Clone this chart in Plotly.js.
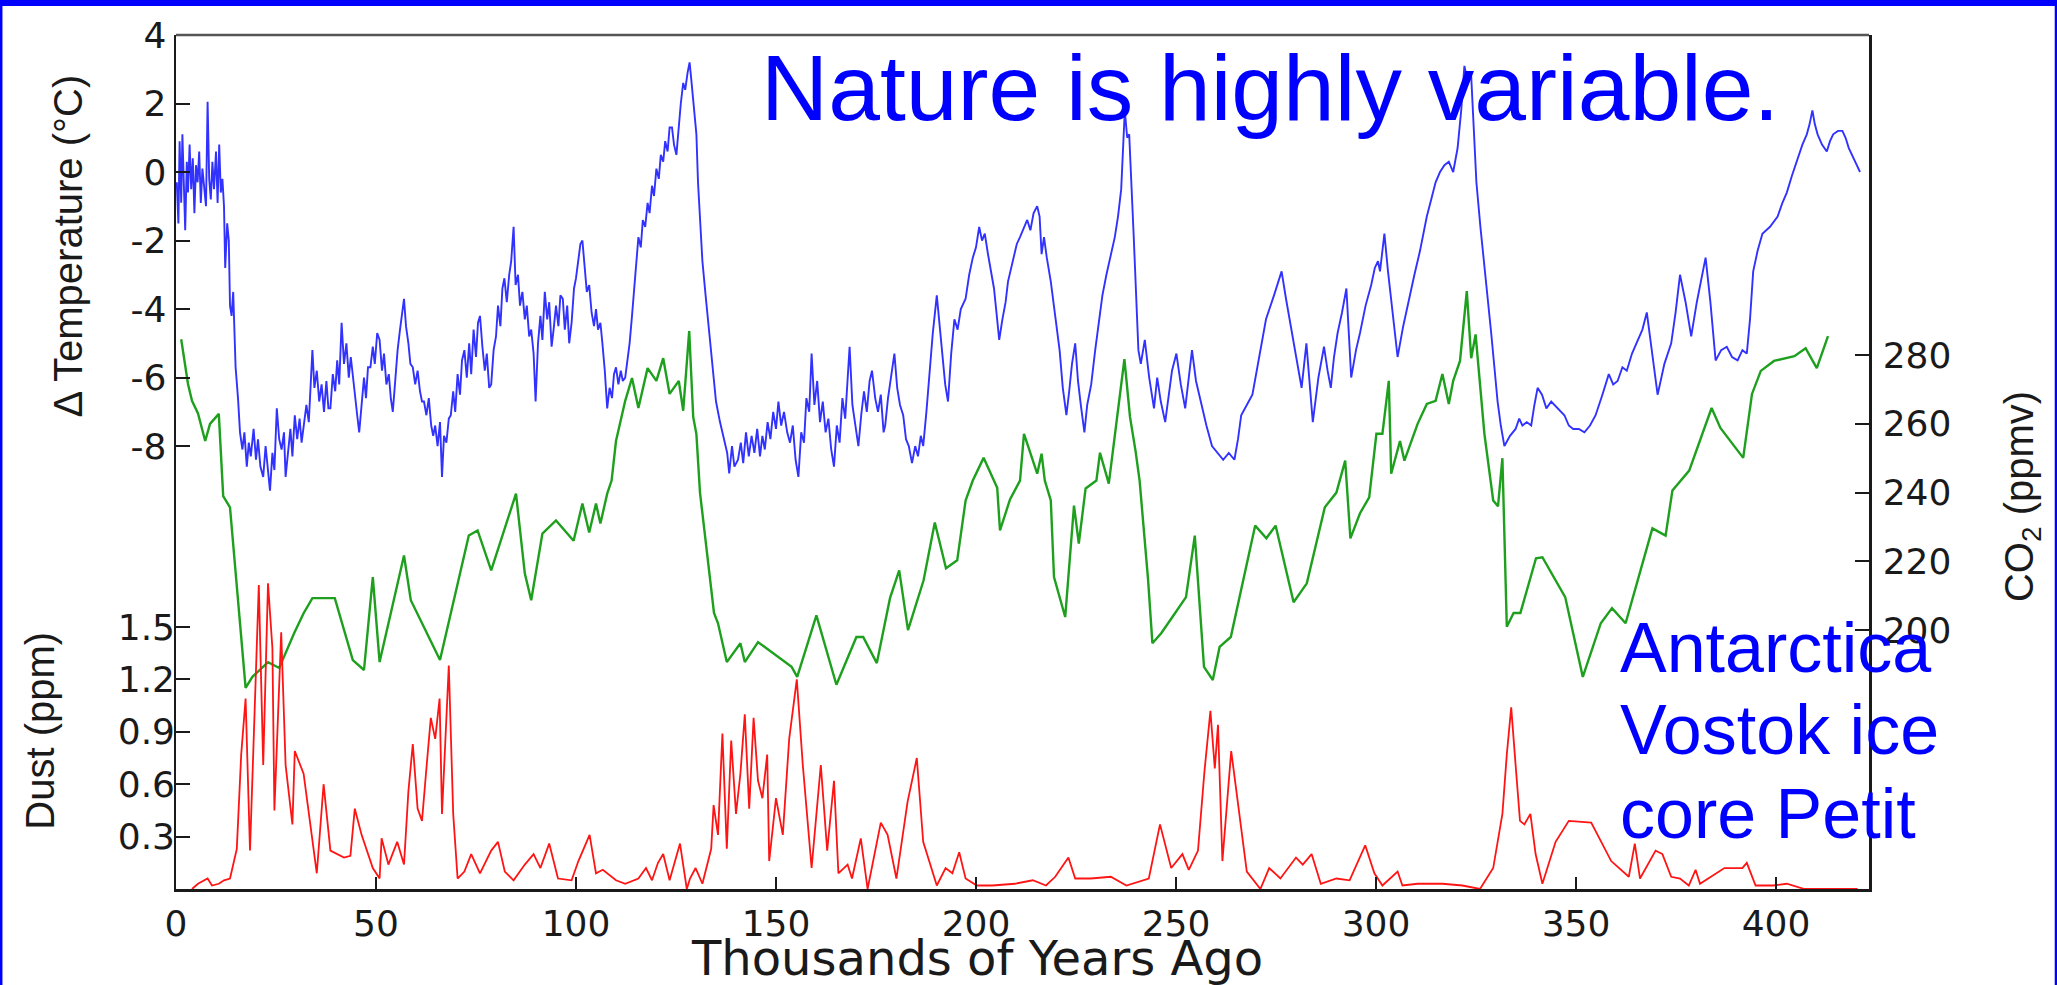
<!DOCTYPE html>
<html>
<head>
<meta charset="utf-8">
<script src="https://cdn.plot.ly/plotly-3.0.1.min.js"></script>
<style>
html,body{margin:0;padding:0;background:#fff;}
#chart{width:2057px;height:985px;}
</style>
</head>
<body>
<div id="chart"></div>
<script>
// ---- Temperature (Δ °C) vs thousands of years ago ----
const tempAge = [0.2,0.6,0.9,1.3,1.6,2.0,2.3,2.7,3.0,3.4,3.8,4.2,4.6,5.0,5.4,5.8,6.2,6.6,7.0,7.5,7.9,8.3,8.7,9.1,9.5,10.0,10.4,10.8,11.2,11.6,12.0,
12.3,12.8,13.2,13.5,13.9,14.3,14.9,15.5,16.0,16.6,17.1,17.7,18.2,18.7,19.4,20.0,20.5,21.1,21.8,22.4,23.0,23.5,24.1,24.6,25.2,25.8,26.4,27.0,27.4,28.0,28.6,29.1,29.7,30.3,30.9,31.4,32.0,32.6,33.2,33.6,34.1,34.6,35.2,35.8,36.4,37.0,37.6,38.1,38.6,39.2,39.8,40.3,40.8,41.4,42.0,42.6,43.2,43.7,44.2,44.8,45.3,45.8,46.4,47.0,47.5,48.0,48.6,49.2,49.7,50.3,50.9,51.5,52.0,52.6,53.2,53.7,54.2,54.8,55.4,56.0,56.5,57.0,57.5,58.1,58.6,59.2,59.8,60.4,61.0,61.5,62.0,62.6,63.2,63.8,64.3,64.8,65.4,66.0,66.5,67.0,67.6,68.2,68.7,69.3,69.8,70.4,71.0,71.5,72.1,72.7,73.3,73.8,74.4,75.0,75.5,76.0,76.6,77.2,77.7,78.3,78.8,79.4,80.0,80.5,81.1,81.6,82.1,82.7,83.3,83.8,84.4,84.9,85.5,86.0,86.6,87.2,87.7,88.3,88.8,89.4,89.9,90.5,91.1,91.6,92.2,92.8,93.3,93.9,94.4,95.0,95.6,96.1,96.7,97.2,97.8,98.3,98.9,99.5,100.0,100.6,101.1,101.6,102.2,102.7,103.3,103.9,104.5,105.0,105.5,106.1,106.6,107.2,107.8,108.4,109.0,109.5,110.0,110.6,111.2,111.7,112.3,112.9,113.4,114.0,114.5,115.1,115.6,116.2,116.7,117.3,117.9,118.4,119.0,119.5,120.1,120.7,121.2,121.8,122.3,122.9,123.4,124.0,124.5,125.1,125.7,126.2,126.8,127.3,127.9,128.4,128.9,129.5,130.1,130.5,131.0,131.6,132.4,133.3,134.1,135.0,136.0,137.2,137.8,138.3,139.0,139.6,140.5,141.2,141.8,142.5,143.2,143.9,144.6,145.3,146.0,146.6,147.2,147.9,148.6,149.3,150.0,150.6,151.3,152.0,152.8,153.5,154.2,154.9,155.6,156.3,157.0,157.6,158.3,158.9,159.6,160.3,161.0,161.7,162.4,163.1,163.8,164.5,165.2,165.9,166.6,167.3,168.0,168.4,169.1,169.8,170.6,171.3,172.0,172.7,173.4,174.0,174.8,175.5,176.2,176.9,177.3,178.0,178.8,179.6,180.3,181.0,181.8,182.5,183.2,184.0,184.8,185.5,186.2,186.8,187.6,188.4,189.2,190.2,190.9,191.6,192.3,193.0,193.8,194.6,195.4,196.2,197.4,198.3,199.2,200.0,200.8,201.5,202.2,203.0,203.8,204.5,205.2,205.8,206.6,207.4,208.0,208.6,209.4,210.2,211.0,212.0,212.8,213.6,214.4,215.3,215.9,216.4,217.0,217.7,218.7,219.8,220.9,221.7,222.6,223.3,224.0,224.8,225.5,226.2,227.1,227.8,228.8,229.8,230.7,231.6,232.6,233.8,234.7,235.5,236.3,237.2,237.8,238.3,238.9,239.4,240.0,240.6,241.2,242.2,243.3,244.5,245.3,246.2,247.3,248.2,249.0,250.1,251.2,252.3,253.2,254.0,255.0,256.2,257.6,259.0,260.4,261.8,263.2,264.6,265.5,266.3,267.7,269.1,270.8,272.5,274.5,276.4,277.5,278.6,280.0,281.4,282.6,283.4,284.2,285.6,287.0,287.9,288.7,289.5,290.4,291.5,292.6,293.2,293.8,295.0,296.0,297.4,298.8,299.7,300.5,301.0,302.1,303.0,303.8,304.6,305.4,306.8,308.2,309.6,311.0,312.7,313.8,314.9,316.0,317.1,318.2,319.3,320.4,321.3,322.1,323.0,323.8,324.4,325.1,326.1,327.1,328.0,328.8,329.6,330.4,331.2,332.1,333.5,334.9,335.8,336.6,337.7,338.8,339.6,340.4,341.5,342.6,343.8,345.4,347.1,348.2,349.3,350.7,352.1,353.5,354.9,356.6,358.2,359.3,360.4,361.6,362.7,364.0,365.4,366.6,367.7,369.0,370.4,372.1,373.8,374.9,376.0,377.4,378.8,380.2,381.6,382.4,383.6,384.9,386.3,387.7,389.0,390.4,391.6,392.7,393.5,394.3,395.4,396.6,398.5,400.4,401.6,402.7,404.0,405.4,406.6,407.7,408.4,409.1,409.7,410.4,411.5,412.7,413.5,414.3,415.5,416.6,417.4,418.2,419.3,420.2,421.0];
const tempVal = [-0.3,-1.5,0.9,-0.9,1.1,-0.4,-1.7,0.3,-0.6,0.8,-0.5,0.4,-1.2,0.2,-0.3,0.6,-0.9,0.1,-0.4,-1.0,2.05,-0.2,-0.8,0.3,-0.5,0.6,-0.9,0.8,-0.6,-0.2,-1.0,
-2.8,-1.5,-2.0,-3.9,-4.2,-3.5,-5.7,-6.6,-7.6,-8.1,-7.6,-8.6,-7.9,-8.3,-7.5,-8.4,-7.8,-8.6,-8.9,-8.0,-8.7,-9.3,-8.2,-8.7,-6.9,-7.8,-8.1,-7.6,-8.9,-8.1,-7.5,-8.3,-7.1,-7.8,-7.2,-7.9,-7.4,-6.8,-7.3,-6.4,-5.2,-6.3,-5.8,-6.7,-6.2,-7.0,-6.1,-6.9,-6.9,-5.9,-6.4,-5.5,-6.2,-4.4,-5.6,-5.0,-6.0,-5.4,-6.0,-6.6,-7.1,-7.6,-6.8,-6.0,-6.6,-5.7,-5.7,-5.1,-5.6,-4.7,-4.9,-5.8,-5.3,-6.2,-5.9,-6.6,-7.0,-6.1,-5.2,-4.6,-4.1,-3.7,-4.5,-5.0,-5.6,-5.7,-6.2,-5.8,-6.4,-6.7,-6.7,-7.1,-6.6,-7.4,-7.7,-7.4,-8.0,-7.3,-8.9,-7.7,-7.9,-7.2,-7.1,-6.4,-7.0,-5.9,-6.5,-5.5,-5.2,-6.0,-5.0,-5.9,-4.6,-5.4,-4.4,-4.2,-5.1,-5.8,-5.3,-6.3,-6.2,-5.2,-4.8,-3.9,-4.5,-3.4,-3.1,-3.8,-3.0,-2.6,-1.6,-3.3,-3.0,-3.9,-3.5,-4.3,-3.9,-4.8,-4.6,-5.3,-6.7,-5.0,-4.2,-4.9,-3.5,-4.3,-3.8,-5.1,-4.6,-3.9,-4.5,-3.6,-3.7,-4.6,-3.9,-5.0,-4.4,-3.4,-3.1,-2.5,-2.1,-2.0,-2.8,-3.5,-3.3,-4.1,-4.5,-4.0,-4.6,-4.4,-5.0,-5.8,-6.9,-6.3,-6.6,-5.9,-5.7,-6.2,-5.8,-6.1,-6.0,-5.4,-5.0,-4.2,-3.5,-2.6,-1.9,-2.2,-1.4,-1.6,-0.9,-1.2,-0.4,-0.7,0.1,-0.2,0.5,0.3,0.9,0.6,1.3,1.3,0.8,0.5,1.4,2.0,2.6,2.4,2.9,3.2,2.6,1.8,1.1,-0.3,-1.2,-2.6,-3.6,-4.7,-5.8,-6.7,-7.3,-7.9,-8.2,-8.8,-8.0,-8.6,-8.4,-7.9,-8.5,-7.6,-8.3,-7.7,-8.2,-7.5,-8.3,-7.7,-8.1,-7.3,-7.8,-7.0,-7.5,-6.7,-7.4,-7.0,-7.6,-7.9,-7.4,-8.4,-8.9,-7.6,-7.9,-6.6,-7.0,-5.3,-6.8,-6.1,-7.3,-6.7,-7.6,-7.2,-8.1,-8.6,-7.4,-7.9,-6.6,-7.2,-5.9,-5.1,-6.8,-7.4,-8.0,-7.1,-6.4,-7.0,-6.1,-5.8,-6.6,-7.0,-6.5,-7.6,-7.4,-6.6,-6.0,-5.3,-6.3,-6.8,-7.1,-7.8,-8.0,-8.5,-8.0,-8.3,-7.7,-8.0,-7.0,-5.8,-4.7,-3.6,-4.5,-5.4,-6.2,-6.7,-5.3,-4.3,-4.6,-4.0,-3.7,-3.0,-2.5,-2.2,-1.6,-2.0,-1.8,-2.4,-2.9,-3.4,-4.2,-4.9,-4.3,-3.8,-3.2,-2.9,-2.5,-2.1,-1.9,-1.6,-1.4,-1.7,-1.2,-1.0,-1.3,-2.4,-1.9,-2.5,-3.2,-4.2,-5.2,-6.3,-7.1,-6.4,-5.6,-5.0,-6.1,-6.8,-7.6,-6.8,-6.2,-5.2,-4.4,-3.6,-3.0,-2.4,-1.9,-1.3,-0.5,1.8,1.0,1.1,-0.3,-1.8,-3.5,-5.2,-5.6,-4.9,-6.0,-6.9,-6.0,-6.7,-7.3,-6.5,-5.8,-5.3,-6.2,-6.9,-6.0,-5.2,-6.1,-6.7,-7.4,-8.0,-8.2,-8.4,-8.2,-8.4,-7.8,-7.1,-6.8,-6.5,-5.4,-4.3,-3.6,-2.9,-3.7,-4.4,-5.4,-6.3,-5.0,-6.2,-7.3,-6.0,-5.1,-5.8,-6.3,-5.4,-4.7,-4.1,-3.4,-4.7,-6.0,-5.2,-4.7,-3.9,-3.3,-2.8,-2.6,-2.9,-1.8,-2.9,-3.7,-4.6,-5.4,-4.5,-3.7,-3.0,-2.3,-1.3,-0.8,-0.3,0.0,0.2,0.3,0.0,0.7,1.8,3.1,2.6,2.8,1.3,-0.3,-1.6,-2.7,-3.8,-4.7,-5.7,-6.7,-7.4,-8.0,-7.7,-7.5,-7.2,-7.4,-7.3,-7.4,-6.8,-6.3,-6.5,-6.9,-6.7,-6.9,-7.1,-7.4,-7.5,-7.5,-7.6,-7.4,-7.1,-6.5,-5.9,-6.2,-6.1,-5.7,-5.8,-5.3,-4.9,-4.6,-4.1,-5.2,-6.5,-5.6,-5.0,-4.1,-3.0,-3.8,-4.8,-3.8,-2.9,-2.5,-3.8,-5.5,-5.2,-5.1,-5.4,-5.5,-5.2,-5.3,-4.3,-2.9,-2.3,-1.8,-1.6,-1.3,-0.9,-0.6,-0.1,0.4,0.8,1.1,1.4,1.8,1.4,1.1,0.8,0.6,0.9,1.1,1.2,1.2,1.0,0.7,0.4,0.2,0.0];

// ---- CO2 (ppmv) ----
const co2Age = [1.3,2.2,3.0,4.0,5.5,7.3,8.5,10.7,11.5,11.8,13.5,15.5,17.4,19.1,21.0,23.0,25.8,27.4,29.5,31.9,34.1,39.7,42.0,44.2,47.0,49.2,50.9,57.0,58.7,66.0,73.2,75.4,78.8,85.0,87.2,88.8,91.6,95.0,99.4,101.6,103.3,105.0,106.1,107.8,108.9,110.0,112.3,114.0,115.6,117.9,120.1,121.8,123.4,125.7,126.8,128.3,129.3,130.1,131.0,133.0,134.5,135.5,137.7,141.1,142.2,145.5,153.9,155.3,160.1,165.1,170.1,171.8,175.2,178.5,180.8,183.0,186.9,189.7,192.5,195.3,197.4,199.2,201.9,205.3,206.0,208.5,211.0,212.0,215.3,216.4,217.2,218.7,219.5,222.3,224.5,225.7,227.4,230.1,231.0,233.2,237.1,238.5,239.9,240.9,243.0,244.1,246.3,249.1,252.5,254.7,256.4,257.0,259.2,260.9,263.7,269.8,272.6,274.9,279.4,282.7,287.2,290.1,292.3,293.6,296.0,298.3,300.1,301.6,303.2,303.8,306.0,307.1,310.4,312.7,314.9,316.6,318.2,319.3,321.0,322.7,323.8,324.9,327.1,329.3,330.5,331.6,332.7,334.4,336.1,340.0,341.6,347.3,351.7,356.2,359.0,362.4,369.1,372.4,374.1,378.3,383.9,386.1,391.8,394.0,396.2,399.5,404.6,407.4,410.2,413.0];
const co2Val = [284.6,278,271.6,266.7,263,255,260,262.9,243.5,239,235.7,210,183.2,186.4,188.5,190.7,189,193.3,199,204.9,209.3,209.3,200,191.3,188.4,215.4,190.7,221.7,208.7,191.3,227.5,229,217.4,239.7,216.5,208.7,228.1,231.9,226,236.8,228.4,236.8,231,239.7,243.5,255,266.7,273.3,264.6,276.2,272.5,279.1,268.7,272.5,263.8,287,262,257,240,220,205,202,190.7,196.2,190.7,196.5,189.3,186.4,204.3,184.1,198,198,190.4,209.3,217.4,200,214.5,231.3,218,220.3,237.7,243.5,250.1,241.4,229,238,243.5,257.1,245.5,251.3,243.5,237.7,215.4,203.8,236.2,225.2,241.2,243.5,251.6,242.6,278.8,262,252,243.5,215,196.2,199.1,203.8,209.6,227.5,200,189.3,185.5,195.1,198,230.4,226.7,230.4,208.1,213.6,235.7,240,249.3,226.7,234,238.6,257.1,257.1,272.5,245.5,255,249.3,260,265.8,266.7,274.5,265.8,272.5,278.3,298.6,279.1,286,257.1,237.7,236,250,201,205,205,220.9,221.2,209.6,186.4,202,206.4,202,229.6,227.5,240.6,246.4,264.6,258.8,250.1,268.7,275.4,278.3,279.7,282,276.2,285.5];

// ---- Dust (ppm) ----
const dustAge = [4.0,5.5,7.9,9.0,10.7,12.0,13.5,15.2,16.3,17.4,18.5,19.6,20.7,21.8,23.0,24.1,24.6,26.3,27.4,29.1,29.7,31.9,35.2,36.9,38.6,42.0,43.6,44.7,46.4,49.2,50.9,51.4,53.1,55.3,57.0,58.1,59.2,60.4,61.5,62.6,63.7,64.8,65.9,66.5,68.2,69.3,70.4,72.1,73.8,76.0,78.8,80.5,82.2,84.4,87.2,89.4,91.1,93.3,95.5,98.9,100.6,103.4,105.0,106.7,110.0,112.3,115.6,117.5,119.0,120.5,121.8,123.4,126.0,127.7,128.5,129.9,131.6,133.8,134.4,135.5,136.6,137.7,138.8,140.0,141.1,142.2,143.3,144.4,145.5,146.6,147.8,148.3,150.0,151.7,153.3,155.2,156.7,158.9,161.2,162.8,164.5,165.6,167.9,169.0,171.2,172.9,176.2,177.9,180.1,182.9,185.2,186.8,190.2,192.4,194.1,195.8,197.4,200.2,204.1,209.7,214.2,217.5,219.8,223.1,224.8,228.7,233.7,237.6,243.2,246.0,248.8,251.6,253.2,255.5,257.1,258.6,259.7,260.5,261.6,263.8,265.5,267.7,271.1,273.3,276.1,280.0,281.7,283.9,286.2,290.1,293.4,297.3,299.6,301.6,305.4,306.6,310.4,313.8,316.6,321.6,326.0,329.3,331.6,332.7,333.8,334.9,336.0,337.1,338.6,339.9,341.6,344.9,348.2,353.8,358.8,363.2,364.7,366.0,369.9,371.6,373.8,376.0,378.2,379.9,381.0,387.1,391.6,392.7,394.9,399.3,402.7,407.1,420.4];
const dustVal = [0.0,0.03,0.06,0.02,0.03,0.05,0.06,0.23,0.77,1.09,0.22,1.0,1.74,0.71,1.75,1.38,0.45,1.47,0.71,0.37,0.79,0.66,0.09,0.6,0.22,0.18,0.19,0.46,0.31,0.12,0.06,0.29,0.14,0.27,0.14,0.56,0.83,0.46,0.39,0.69,0.98,0.86,1.09,0.43,1.28,0.43,0.06,0.1,0.2,0.09,0.22,0.27,0.1,0.05,0.14,0.2,0.12,0.26,0.06,0.05,0.16,0.31,0.09,0.11,0.05,0.03,0.06,0.12,0.05,0.15,0.2,0.05,0.26,0.0,0.06,0.12,0.03,0.23,0.48,0.31,0.89,0.23,0.85,0.43,0.66,1.0,0.46,0.98,0.62,0.52,0.77,0.16,0.52,0.31,0.86,1.2,0.71,0.12,0.71,0.22,0.62,0.09,0.14,0.06,0.29,0.0,0.38,0.31,0.06,0.5,0.75,0.27,0.02,0.12,0.09,0.21,0.06,0.02,0.02,0.03,0.05,0.02,0.07,0.18,0.06,0.06,0.07,0.02,0.06,0.37,0.12,0.2,0.11,0.22,0.67,1.02,0.69,0.94,0.16,0.79,0.5,0.1,0.0,0.12,0.06,0.18,0.14,0.2,0.03,0.06,0.05,0.25,0.09,0.02,0.1,0.02,0.03,0.03,0.03,0.02,0.0,0.12,0.43,0.77,1.04,0.71,0.39,0.37,0.43,0.2,0.03,0.27,0.39,0.38,0.16,0.07,0.26,0.06,0.22,0.2,0.07,0.06,0.02,0.11,0.03,0.12,0.12,0.15,0.02,0.02,0.03,0.0,0.0];

const xTicks = [0,50,100,150,200,250,300,350,400];
const tempTicks = [-8,-6,-4,-2,0,2,4];
const tempTickText = ['-8','-6','-4','-2','0','2','4'];
const co2Ticks = [200,220,240,260,280];
const dustTicks = [0.3,0.6,0.9,1.2,1.5];
const dustTickText = ['0.3','0.6','0.9','1.2','1.5'];

const axisColor = '#1a1a1a';
const tickFont = {family:'DejaVu Sans, Liberation Sans, Arial, sans-serif', size:36, color:'#1a1a1a'};
const titleFont = {family:'Liberation Sans, Arial, sans-serif', size:40, color:'#1a1a1a'};
const blueFont = (s) => ({family:'Liberation Sans, Arial, sans-serif', size:s, color:'#0000ff'});

const traces = [
  {x:dustAge, y:dustVal, yaxis:'y3', type:'scatter', mode:'lines', line:{color:'rgb(255,20,20)', width:1.8}, name:'Dust'},
  {x:co2Age, y:co2Val, yaxis:'y2', type:'scatter', mode:'lines', line:{color:'rgb(30,160,30)', width:2.4}, name:'CO2'},
  {x:tempAge, y:tempVal, yaxis:'y', type:'scatter', mode:'lines', line:{color:'rgb(50,50,255)', width:1.9}, name:'Temperature'}
];

const common = {showgrid:false, zeroline:false, ticks:'inside', tickwidth:2, tickcolor:axisColor, tickfont:tickFont, automargin:false, fixedrange:true};

const layout = {
  width:2057, height:985,
  margin:{l:176, r:188, t:35, b:96, pad:0},
  paper_bgcolor:'#ffffff', plot_bgcolor:'#ffffff',
  showlegend:false,
  xaxis:Object.assign({}, common, {
    range:[0,423.25], tickmode:'array', tickvals:xTicks, ticklen:12,
    showline:true, linecolor:axisColor, linewidth:2.5,
    ticklabelstandoff:1
  }),
  yaxis:Object.assign({}, common, {
    range:[-20.93,4], tickmode:'array', tickvals:tempTicks, ticktext:tempTickText, ticklen:14,
    showline:true, linecolor:axisColor, linewidth:2.5, side:'left', ticklabelstandoff:0
  }),
  yaxis2:Object.assign({}, common, {
    range:[124.7,373.1], tickmode:'array', tickvals:co2Ticks, ticklen:14,
    overlaying:'y', side:'right', showline:true, linecolor:axisColor, linewidth:2.5, ticklabelstandoff:4
  }),
  yaxis3:Object.assign({}, common, {
    range:[0,4.89], tickmode:'array', tickvals:dustTicks, ticktext:dustTickText, ticklen:14,
    overlaying:'y', side:'left', showline:false, ticklabelstandoff:0
  }),
  shapes:[
    {type:'line', xref:'paper', yref:'paper', x0:0, x1:1, y0:1, y1:1, line:{color:'#555555', width:2.5}},
    {type:'rect', xref:'paper', yref:'paper', x0:-0.1045, x1:1.1115, y0:1.0340, y1:1.0420, fillcolor:'#0000ff', line:{width:0}},
    {type:'rect', xref:'paper', yref:'paper', x0:-0.1045, x1:-0.1025, y0:-0.115, y1:1.0420, fillcolor:'#0000ff', line:{width:0}},
    {type:'rect', xref:'paper', yref:'paper', x0:1.1097, x1:1.1115, y0:-0.115, y1:1.0420, fillcolor:'#0000ff', line:{width:0}}
  ],
  annotations:[
    {text:'Thousands of Years Ago', xref:'paper', yref:'paper', x:0.473, y:-0.0805, xanchor:'center', yanchor:'middle', showarrow:false, font:{family:'DejaVu Sans, Liberation Sans, sans-serif', size:48, color:'#1a1a1a'}},
    {text:'Δ Temperature (°C)', xref:'paper', yref:'paper', x:-0.064, y:0.753, xanchor:'center', yanchor:'middle', textangle:-90, showarrow:false, font:titleFont},
    {text:'Dust (ppm)', xref:'paper', yref:'paper', x:-0.0805, y:0.185, xanchor:'center', yanchor:'middle', textangle:-90, showarrow:false, font:titleFont},
    {text:'CO<sub>2</sub> (ppmv)', xref:'paper', yref:'paper', x:1.0904, y:0.459, xanchor:'center', yanchor:'middle', textangle:-90, showarrow:false, font:titleFont},
    {text:'Nature is highly variable.', xref:'paper', yref:'paper', x:0.646, y:0.938, xanchor:'center', yanchor:'middle', showarrow:false, font:blueFont(93)},
    {text:'Antarctica', xref:'paper', yref:'paper', x:0.852, y:0.2826, xanchor:'left', yanchor:'middle', showarrow:false, font:blueFont(70)},
    {text:'Vostok ice', xref:'paper', yref:'paper', x:0.852, y:0.1865, xanchor:'left', yanchor:'middle', showarrow:false, font:blueFont(70)},
    {text:'core Petit', xref:'paper', yref:'paper', x:0.852, y:0.0882, xanchor:'left', yanchor:'middle', showarrow:false, font:blueFont(70)}
  ],
  hovermode:false
};

Plotly.newPlot('chart', traces, layout, {staticPlot:true, displayModeBar:false});
</script>
</body>
</html>
